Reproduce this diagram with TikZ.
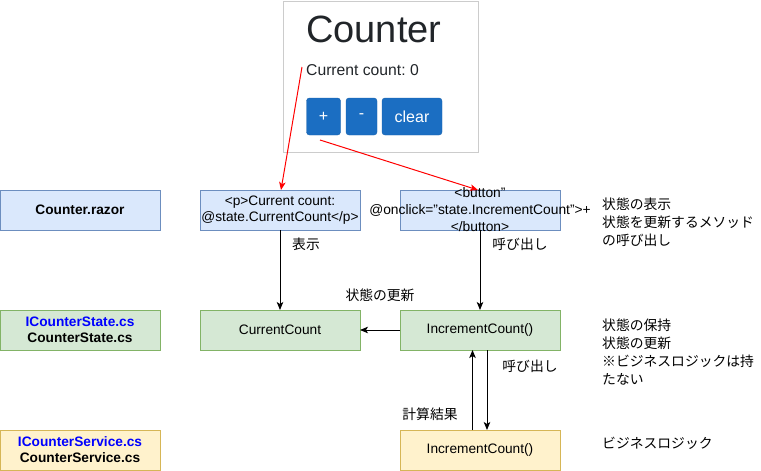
\documentclass[tikz,border=0pt]{standalone}
\usepackage{fontspec}
\setmainfont{Liberation Sans}
\newfontfamily\jp{Noto Sans CJK JP}
\usetikzlibrary{arrows.meta}
\frenchspacing
\definecolor{bfill}{HTML}{DAE8FC}\definecolor{bline}{HTML}{6C8EBF}
\definecolor{gfill}{HTML}{D5E8D4}\definecolor{gline}{HTML}{82B366}
\definecolor{yfill}{HTML}{FFF2CC}\definecolor{yline}{HTML}{D6B656}
\definecolor{btnblue}{HTML}{1B6EC2}\definecolor{btnline}{HTML}{1861AC}
\definecolor{dark}{HTML}{212529}
\definecolor{ssline}{HTML}{CCCCCC}
\newcommand{\dq}{\char"22\relax}
\begin{document}
\frenchspacing
\begin{tikzpicture}[x=1pt,y=-1pt,
  font=\fontsize{13.7}{16}\selectfont,
  box/.style={draw, line width=1pt, minimum width=160pt, minimum height=40pt, inner sep=0pt, outer sep=0pt, align=center},
  bluebox/.style={box, fill=bfill, draw=bline},
  greenbox/.style={box, fill=gfill, draw=gline},
  yellowbox/.style={box, fill=yfill, draw=yline},
  arr/.style={draw, line width=1pt, -{Stealth[length=8pt,width=6.5pt,inset=2pt]}},
  redarr/.style={draw=red, line width=1pt, -{Stealth[length=8pt,width=6.5pt,inset=2pt]}},
  jplabel/.style={font=\jp\fontsize{13.8}{18}\selectfont, inner sep=0pt, align=left},
  webbtn/.style={fill=btnblue, draw=btnline, rounded corners=3pt, text=white, inner sep=0pt, minimum height=37pt, font=\fontsize{16}{18}\selectfont}
]
\useasboundingbox (0,0) rectangle (761,471);

% screenshot
\node[draw=ssline, line width=1pt, minimum width=195pt, minimum height=151pt, inner sep=0pt, anchor=north west] (shot) at (283,0.5) {};
\node[anchor=base west, inner sep=0pt, text=dark, font=\fontsize{38}{40}\selectfont] (title) at (306,42) {Counter};
\node[anchor=base west, inner sep=0pt, text=dark, font=\fontsize{15.7}{18}\selectfont] (cc) at (306,75) {Current count: 0};
\node[webbtn, minimum width=34pt] (plus) at (323.5,116.5) {+};
\node[webbtn, minimum width=31pt] (minus) at (361.5,116.5) {-};
\node[webbtn, minimum width=60pt] (clear) at (412,116.5) {clear};

% left column
\node[bluebox] (razor) at (80,210) {\textbf{Counter.razor}};
\node[greenbox, font=\bfseries\fontsize{13.7}{16}\selectfont] (state) at (80,330) {\textcolor{blue}{ICounterState.cs}\\CounterState.cs};
\node[yellowbox, font=\bfseries\fontsize{13.7}{16}\selectfont] (service) at (80,450) {\textcolor{blue}{ICounterService.cs}\\CounterService.cs};

% middle
\node[bluebox] (p) at (280,210) {<p>Current count:\\@state.CurrentCount</p>};
\node[bluebox] (btn) at (480,210) {};
\node[inner sep=0pt, align=center, font=\fontsize{13.8}{17}\selectfont] (btntext) at (btn.center) {<button\dq\\@onclick=\dq state.IncrementCount\dq>+\\</button>};
\node[greenbox] (cur) at (280,330) {CurrentCount};
\node[greenbox] (inc) at (480,330) {IncrementCount()};
\node[yellowbox] (svc) at (480,450) {IncrementCount()};

% red arrows
\coordinate (r1) at (302,67);
\coordinate (r2) at (320,140);
\draw[redarr] (r1) -- ([xshift=1pt]p.north);
\draw[redarr] (r2) -- ([xshift=-2pt]btn.north);

% black arrows
\draw[arr] (p.south) -- (cur.north);
\draw[arr] (btn.south) -- (inc.north);
\draw[arr] (inc.west) -- (cur.east);
\draw[arr] ([xshift=7pt]inc.south) -- ([xshift=7pt]svc.north);
\draw[arr] ([xshift=-7.5pt]svc.north) -- ([xshift=-7.5pt]inc.south);

% labels
\node[jplabel] (l1) at (306,244) {表示};
\node[jplabel] (l2) at (520,244) {呼び出し};
\node[jplabel] (l3) at (380,295) {状態の更新};
\node[jplabel] (l4) at (530,366) {呼び出し};
\node[jplabel] (l5) at (430,414) {計算結果};

% right notes
\node[jplabel, anchor=west] (n1) at (602,222) {状態の表示\\状態を更新するメソッド\\の呼び出し};
\node[jplabel, anchor=west] (n2) at (602,352) {状態の保持\\状態の更新\\※ビジネスロジックは持\\たない};
\node[jplabel, anchor=west] (n3) at (602,443) {ビジネスロジック};
\end{tikzpicture}
\end{document}
